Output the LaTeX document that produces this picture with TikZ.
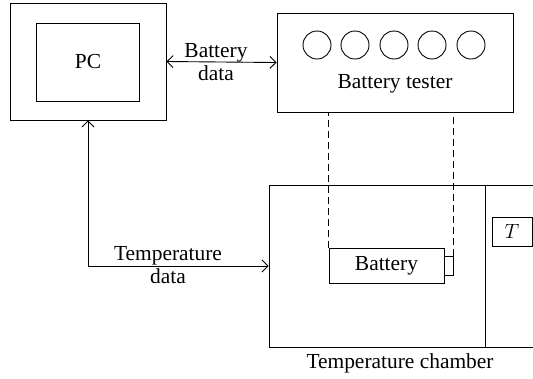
\documentclass[tikz,border=0pt]{standalone}
\usepackage{fontspec}
\setmainfont{Liberation Serif}
\usetikzlibrary{arrows.meta}
\begin{document}
\begin{tikzpicture}[x=1bp,y=-1bp,
  every node/.style={font=\fontsize{21.5}{23}\selectfont},
  box/.style={draw,line width=0.9bp,rectangle,inner sep=0pt,anchor=center},
  ring/.style={draw,line width=0.9bp,circle,inner sep=0pt,minimum size=28bp},
  conn/.style={line width=0.9bp,arrows={Straight Barb[length=6bp,width=12bp]-Straight Barb[length=6bp,width=12bp]}},
  link/.style={line width=0.9bp,dashed,dash pattern=on 7bp off 4bp},
  lbl/.style={align=center,inner sep=0pt}]
\useasboundingbox (0,0) rectangle (533,378);
\clip (0,0) rectangle (533,378);
% PC
\node[box,minimum width=156bp,minimum height=117bp] (pcouter) at (88,61.5) {};
\node[box,minimum width=103bp,minimum height=78bp] (pcinner) at (88,62) {PC};
% Battery tester
\node[box,minimum width=236bp,minimum height=99bp] (tester) at (395,62.5) {};
\foreach \i/\x in {1/317,2/355,3/394,4/432,5/471}
  \node[ring] (c\i) at (\x,45) {};
\node[lbl] (testerlbl) at (395,84) {Battery tester};
% chamber
\node[box,minimum width=291bp,minimum height=162bp] (chamber) at (414.5,266) {};
\coordinate (divtop) at (485,185);
\coordinate (divbot) at (485,347);
\draw[line width=0.9bp] (divtop) -- (divbot);
\node[box,minimum width=40bp,minimum height=29bp] (tbox) at (512,231.5) {$T$};
\node[box,minimum width=115bp,minimum height=35bp] (battery) at (386.5,265.5) {Battery};
\node[box,minimum width=9bp,minimum height=19bp] (terminal) at (448.5,265.5) {};
\node[lbl] (chamberlbl) at (400,363) {Temperature chamber};
% dashed links
\draw[link] (battery.north west) -- (battery.north west |- tester.south);
\draw[link] (terminal.north east) -- (terminal.north east |- tester.south);
% connectors
\draw[conn] (pcouter.east) -- (tester.west);
\node[lbl] (bdata) at (216,62) {Battery\\data};
\draw[conn] (pcouter.south) |- (chamber.west);
\node[lbl] (tdata) at (168,265) {Temperature\\data};
\end{tikzpicture}
\end{document}
